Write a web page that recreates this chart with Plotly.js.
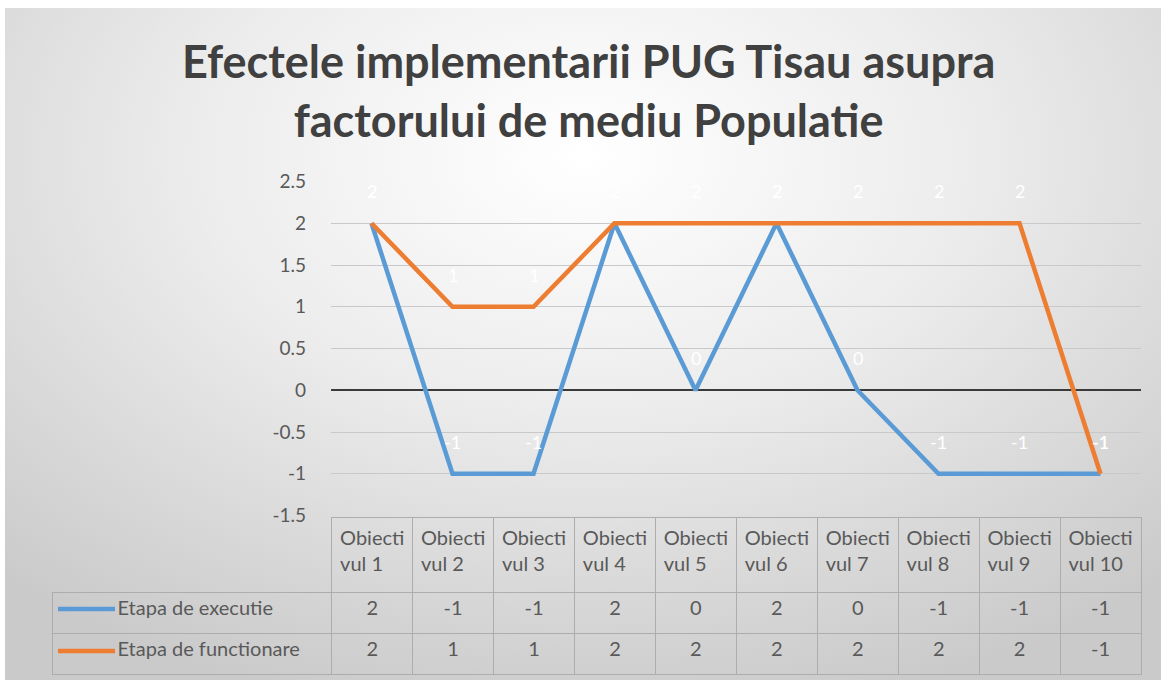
<!DOCTYPE html>
<html>
<head>
<meta charset="utf-8">
<script src="https://cdn.plot.ly/plotly-3.0.1.min.js"></script>
<style>
  html, body { margin:0; padding:0; background:#ffffff; }
  #bg { position:absolute; left:5px; top:8px; width:1156px; height:672px;
        background: radial-gradient(ellipse 75% 85% at 50% 22%, #ffffff 0%, #ececec 45%, #d6d6d6 80%, #cacaca 100%); }
  #chart { position:absolute; left:0; top:0; width:1161px; height:683px; }
</style>
</head>
<body>
<div id="bg"></div>
<div id="chart"></div>
<script>
const categories = ['Obiectivul 1','Obiectivul 2','Obiectivul 3','Obiectivul 4','Obiectivul 5',
                    'Obiectivul 6','Obiectivul 7','Obiectivul 8','Obiectivul 9','Obiectivul 10'];
const headerLabels = ['Obiecti<br>vul 1','Obiecti<br>vul 2','Obiecti<br>vul 3','Obiecti<br>vul 4','Obiecti<br>vul 5',
                      'Obiecti<br>vul 6','Obiecti<br>vul 7','Obiecti<br>vul 8','Obiecti<br>vul 9','Obiecti<br>vul 10'];
const seriesNames = ['Etapa de executie', 'Etapa de functionare'];
const executie = [2, -1, -1, 2, 0, 2, 0, -1, -1, -1];
const functionare = [2, 1, 1, 2, 2, 2, 2, 2, 2, -1];
const yTickVals = [-1.5, -1, -0.5, 0, 0.5, 1, 1.5, 2, 2.5];
const yTickText = ['-1.5', '-1', '-0.5', '0', '0.5', '1', '1.5', '2', '2.5'];
const titleText = 'Efectele implementarii PUG Tisau asupra<br>factorului de mediu Populatie';

const colors = ['#5b9bd5', '#ed7d31'];
const series = [executie, functionare];
const W = 1161, H = 683;
const fmt = v => String(v); // hyphen-minus as in the original

const FONT = 'Lato, "Liberation Sans", sans-serif';
const TXT = '#595959';

const traces = series.map((vals, i) => ({
  type: 'scatter', mode: 'lines',
  x: categories, y: vals, name: seriesNames[i],
  line: { color: colors[i], width: 4.5 },
  hoverinfo: 'skip', showlegend: false,
  xaxis: 'x', yaxis: 'y'
}));

// data table
const pad = '\u2003\u2003\u2003\u2002\u2009';
const tableCols = [seriesNames.map(n => pad + n)];
categories.forEach((c, j) => tableCols.push(series.map(s => fmt(s[j]))));
const headerLineColors = ['rgba(0,0,0,0)'].concat(categories.map(() => '#adadad'));
traces.push({
  type: 'table',
  domain: { x: [52 / W, 1141 / W], y: [8 / H, 166 / H] },
  columnwidth: [280].concat(categories.map(() => 81)),
  header: {
    values: [''].concat(headerLabels),
    align: 'center', height: 75,
    line: { color: headerLineColors, width: 1 },
    fill: { color: 'rgba(0,0,0,0)' },
    font: { family: FONT, size: 20, color: TXT }
  },
  cells: {
    values: tableCols,
    align: ['left'].concat(categories.map(() => 'center')),
    height: 41,
    line: { color: '#adadad', width: 1 },
    fill: { color: 'rgba(0,0,0,0)' },
    font: { family: FONT, size: 20, color: TXT }
  }
});

// data labels
const annotations = [];
series.forEach((vals, i) => {
  vals.forEach((v, j) => {
    annotations.push({
      x: categories[j], y: v, xref: 'x', yref: 'y',
      text: fmt(v), showarrow: false, yshift: 32,
      font: { family: FONT, size: 18, color: '#ffffff' }
    });
  });
});

// legend keys inside the data table
const shapes = [609, 651].map((py, i) => ({
  type: 'line', xref: 'paper', yref: 'paper',
  x0: 58 / W, x1: 115 / W, y0: (H - py) / H, y1: (H - py) / H,
  line: { color: colors[i], width: 4.5 }
}));

const layout = {
  width: W, height: H,
  margin: { l: 0, r: 0, t: 0, b: 0 },
  paper_bgcolor: 'rgba(0,0,0,0)',
  plot_bgcolor: 'rgba(0,0,0,0)',
  title: {
    text: titleText,
    font: { family: FONT, size: 45, color: '#404040', weight: 'bold' },
    x: 0.507, xanchor: 'center', xref: 'container',
    y: 1 - 78 / H, yanchor: 'top', yref: 'container'
  },
  xaxis: {
    domain: [331 / W, 1141 / W],
    type: 'category', range: [-0.5, 9.5],
    showticklabels: false, showgrid: false, zeroline: false,
    showline: false, ticks: '', fixedrange: true
  },
  yaxis: {
    domain: [(H - 515.5) / H, (H - 181.5) / H],
    range: [-1.5, 2.5],
    tickvals: yTickVals, ticktext: yTickText,
    tickfont: { family: FONT, size: 19, color: TXT },
    ticklabelstandoff: 24,
    showgrid: true, gridcolor: '#c9c9c9', gridwidth: 1,
    zeroline: true, zerolinecolor: '#3a3a3a', zerolinewidth: 2,
    showline: false, ticks: '', fixedrange: true
  },
  annotations: annotations,
  shapes: shapes,
  showlegend: false
};

Plotly.newPlot('chart', traces, layout, { displayModeBar: false, staticPlot: true });
</script>
</body>
</html>
